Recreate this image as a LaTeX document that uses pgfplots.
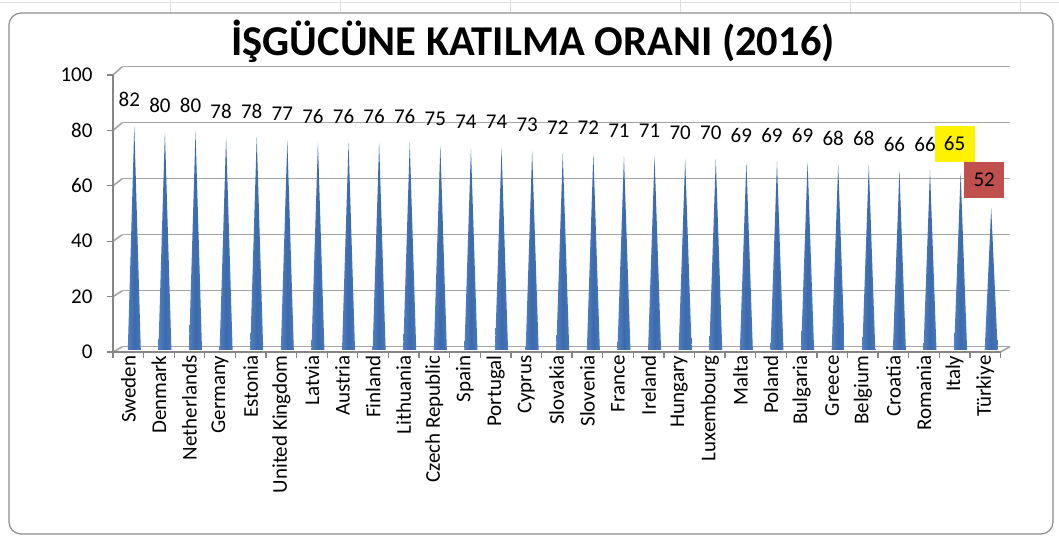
\documentclass[border=0pt]{standalone}
\usepackage{pgfplots}
\pgfplotsset{compat=1.18}
\usepackage{pgfplotstable}
\usepackage{fontspec}
\setmainfont{Carlito}
\definecolor{gridgray}{HTML}{A6A6A6}
\definecolor{axisgray}{HTML}{868686}
\definecolor{frame}{HTML}{8C8C8C}
\definecolor{coneL}{HTML}{6394D3}
\definecolor{coneM}{HTML}{3B6AAD}
\definecolor{coneR}{HTML}{5585C6}
\definecolor{turred}{HTML}{C0504D}
\pgfdeclarehorizontalshading{coneshade}{100bp}{color(0bp)=(coneL); color(50bp)=(coneM); color(100bp)=(coneR)}
\pgfdeclareplotmark{cone}{%
  \pgfmathsetlengthmacro\coneyb{2-\val*2.77}%
  \pgfmathsetlengthmacro\coneyt{2-\val*2.77+\val*2.73}%
  \pgfpathmoveto{\pgfpoint{-0.5pt}{\coneyb}}%
  \pgfpathlineto{\pgfpoint{6pt}{\coneyt}}%
  \pgfpathlineto{\pgfpoint{12.5pt}{\coneyb}}%
  \pgfpathclose
  \pgfshadepath{coneshade}{0}%
  \pgfusepath{}%
}

\pgfplotstableread{
x v
0.5 82
1.5 80
2.5 80
3.5 78
4.5 78
5.5 77
6.5 76
7.5 76
8.5 76
9.5 76
10.5 75
11.5 74
12.5 74
13.5 73
14.5 72
15.5 72
16.5 71
17.5 71
18.5 70
19.5 70
20.5 69
21.5 69
22.5 69
23.5 68
24.5 68
25.5 66
26.5 66
}\maindata
\pgfplotstableread{
x v
27.5 65
}\italydata
\pgfplotstableread{
x v
28.5 52
}\turkeydata

\pgfplotsset{
  cone/.style={
    only marks, mark=cone,
    visualization depends on={\thisrow{v} \as \val},
    nodes near coords,
    every node near coord/.append style={font=\fontsize{21}{25}\selectfont, text=black, anchor=center, yshift=25pt, xshift=1pt},
  },
}

\begin{document}
\begin{tikzpicture}[x=1pt,y=1pt]
\useasboundingbox (0,0) rectangle (1059,540);
\fill[white] (0,0) rectangle (1059,540);
% excel sheet lines outside the chart
\draw[gray!25, line width=0.8pt] (0,538) -- (1059,538);
\foreach \gx in {170,340,510,680,850,1020} {\draw[gray!25, line width=0.8pt] (\gx,527) -- (\gx,540);}
% chart frame
\draw[frame, line width=1.2pt, rounded corners=12pt, fill=white] (9,6) rectangle (1053,527);

% title
\node[anchor=base, font=\fontsize{42.5}{48}\selectfont\bfseries] at (533,484) {İŞGÜCÜNE KATILMA ORANI (2016)};

% back wall gridlines
\begin{axis}[at={(122.5pt,193.3pt)}, anchor=south west, scale only axis,
  width=887.5pt, height=280.2pt,
  xmin=0, xmax=29, ymin=0, ymax=100,
  ytick={0,20,...,100}, xtick=\empty, yticklabels={},
  major tick length=0pt,
  ymajorgrids, grid style={color=gridgray, line width=1.6pt},
  axis line style={draw=none}]
\end{axis}

% side-wall connectors and floor edge
\foreach \v in {0,20,...,100} {
  \draw[gridgray, line width=1.6pt] (113,188+2.77*\v) -- (122.5,193.3+2.802*\v);
}
\draw[gridgray, line width=1.6pt] (1000.5,188) -- (1010,193.3);

% front axis with cones
\begin{axis}[at={(113pt,188pt)}, anchor=south west, scale only axis,
  width=887.5pt, height=277pt,
  xmin=0, xmax=29, ymin=0, ymax=100,
  clip=false,
  axis x line*=bottom, axis y line*=left,
  axis line style={-, color=axisgray, line width=1.3pt},
  tick style={color=axisgray, line width=1.3pt},
  tick align=outside, major tick length=6pt,
  ytick={0,20,...,100},
  xtick={0,...,29}, xticklabels={},
  /pgf/number format/assume math mode=true,
  yticklabel style={font=\fontsize{21}{25}\selectfont, xshift=-11pt},
  extra x ticks={0.5,1.5,...,28.5},
  extra x tick labels={Sweden,Denmark,Netherlands,Germany,Estonia,United Kingdom,Latvia,Austria,Finland,Lithuania,Czech Republic,Spain,Portugal,Cyprus,Slovakia,Slovenia,France,Ireland,Hungary,Luxembourg,Malta,Poland,Bulgaria,Greece,Belgium,Croatia,Romania,Italy,Türkiye},
  extra x tick style={major tick length=0pt, tick style={draw=none},
    xticklabel style={font=\fontsize{21}{25}\selectfont, rotate=90, anchor=east}},
]
\addplot[cone] table[x=x, y=v] {\maindata};
\addplot[cone, every node near coord/.append style={fill=yellow, minimum width=40pt, minimum height=36pt, inner sep=0pt, yshift=3pt, xshift=-1pt}] table[x=x, y=v] {\italydata};
\addplot[cone, every node near coord/.append style={fill=turred, minimum width=40pt, minimum height=36pt, inner sep=0pt, yshift=3pt, xshift=-2pt}] table[x=x, y=v] {\turkeydata};
\end{axis}
\end{tikzpicture}
\end{document}
